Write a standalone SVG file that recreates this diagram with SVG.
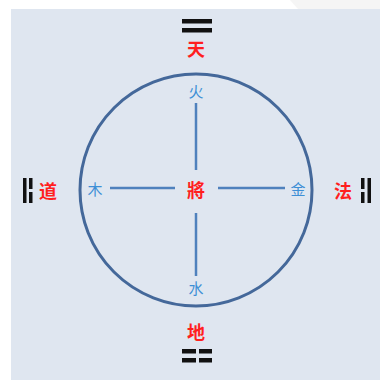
<svg xmlns="http://www.w3.org/2000/svg" width="380" height="380" viewBox="0 0 380 380">
<style>
.el{font-family:"Noto Sans CJK SC","Noto Sans CJK JP",sans-serif;font-size:15px;fill:#3d8fd6;text-anchor:middle;dominant-baseline:central}
.dir{font-family:"Noto Sans CJK SC","Noto Sans CJK JP",sans-serif;font-size:18px;font-weight:bold;fill:#ff1f1f;text-anchor:middle;dominant-baseline:central}
.bar{fill:#111}
.ln{stroke:#4f81bd;stroke-width:2.5;fill:none}
</style>
<rect width="380" height="380" fill="#ffffff"/>
<polygon points="290,0 380,0 380,9 298,9" fill="#f5f5f5"/>
<rect x="11" y="9" width="369" height="371" fill="#dfe6f0"/>
<g id="circle"><circle cx="196" cy="190" r="116" fill="none" stroke="#44689a" stroke-width="3"/></g>
<g id="connectors">
<line class="ln" x1="196" y1="103" x2="196" y2="170"/>
<line class="ln" x1="196" y1="213" x2="196" y2="276"/>
<line class="ln" x1="110" y1="188" x2="175" y2="188"/>
<line class="ln" x1="218" y1="188" x2="285" y2="188"/>
</g>
<g id="center"><text class="dir" x="196" y="189">將</text></g>
<g id="fire"><text class="el" x="196" y="90">火</text></g>
<g id="wood"><text class="el" x="95" y="188">木</text></g>
<g id="metal"><text class="el" x="298" y="188">金</text></g>
<g id="water"><text class="el" x="196" y="287">水</text></g>
<g id="tian">
<rect class="bar" x="182" y="19" width="30" height="4.5"/>
<rect class="bar" x="182" y="28" width="30" height="4.5"/>
<text class="dir" x="196" y="48">天</text>
</g>
<g id="di">
<text class="dir" x="196" y="331">地</text>
<rect class="bar" x="182" y="349" width="14" height="4.5"/>
<rect class="bar" x="199" y="349" width="13" height="4.5"/>
<rect class="bar" x="182" y="358" width="14" height="4.5"/>
<rect class="bar" x="199" y="358" width="13" height="4.5"/>
</g>
<g id="dao">
<rect class="bar" x="23" y="178" width="3.5" height="25"/>
<rect class="bar" x="29" y="178" width="3.5" height="11"/>
<rect class="bar" x="29" y="192" width="3.5" height="11"/>
<text class="dir" x="48" y="190">道</text>
</g>
<g id="fa">
<text class="dir" x="343" y="190">法</text>
<rect class="bar" x="361" y="178" width="3.5" height="11"/>
<rect class="bar" x="361" y="192" width="3.5" height="11"/>
<rect class="bar" x="367.5" y="178" width="3.5" height="25"/>
</g>
</svg>
